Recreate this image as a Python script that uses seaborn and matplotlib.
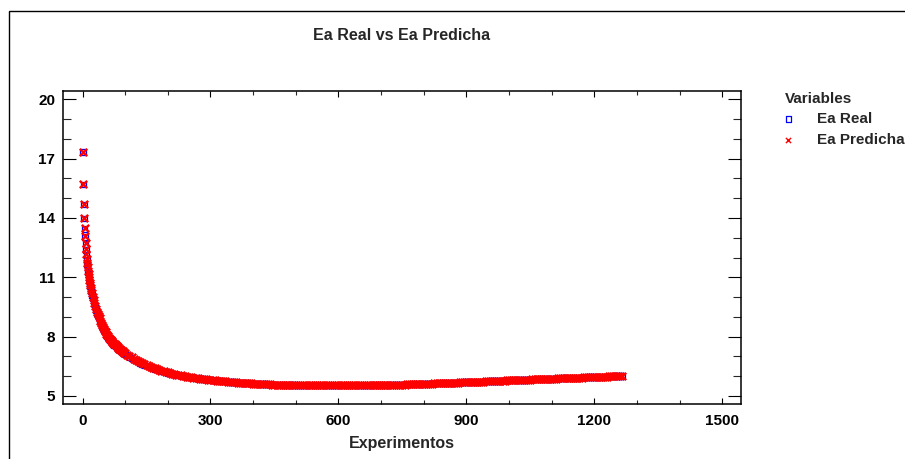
import numpy as np
import pandas as pd
import matplotlib
matplotlib.use("Agg")
import matplotlib.pyplot as plt
from matplotlib.patches import Rectangle
from matplotlib.ticker import MultipleLocator
import seaborn as sns

# Experiment numbers at which Ea is shown
experimentos = (list(range(1, 21)) + list(range(22, 101, 2))
                + list(range(105, 1261, 5)) + [1265])

# First part of the curve (x = 1..250), where real and predicted differ
ea_real_inicio = [
    17.35, 15.69, 14.69, 13.98, 13.44, 13.05, 12.68, 12.38, 12.12, 11.88,
    11.66, 11.46, 11.28, 11.11, 10.95, 10.81, 10.67, 10.54, 10.42, 10.31,
    10.12, 9.94, 9.78, 9.63, 9.48, 9.34, 9.20, 9.07, 8.96, 8.85,
    8.74, 8.63, 8.53, 8.43, 8.33, 8.25, 8.16, 8.08, 8.01, 7.95,
    7.89, 7.84, 7.78, 7.73, 7.68, 7.64, 7.59, 7.55, 7.50, 7.46,
    7.42, 7.38, 7.34, 7.31, 7.27, 7.24, 7.21, 7.17, 7.14, 7.11,
    7.04, 6.97, 6.91, 6.85, 6.79, 6.74, 6.68, 6.63, 6.58, 6.54,
    6.49, 6.45, 6.41, 6.37, 6.33, 6.30, 6.26, 6.23, 6.20, 6.17,
    6.14, 6.12, 6.09, 6.07, 6.05, 6.03, 6.01, 5.99, 5.97, 5.96,
]

ea_predicha_inicio = [
    17.36, 15.71, 14.72, 14.02, 13.49, 13.10, 12.73, 12.44, 12.18, 11.94,
    11.72, 11.52, 11.34, 11.17, 11.01, 10.87, 10.73, 10.60, 10.48, 10.37,
    10.19, 10.01, 9.85, 9.70, 9.55, 9.41, 9.27, 9.14, 9.03, 8.92,
    8.81, 8.70, 8.60, 8.50, 8.40, 8.31, 8.22, 8.14, 8.07, 8.01,
    7.95, 7.90, 7.84, 7.79, 7.74, 7.70, 7.65, 7.61, 7.56, 7.52,
    7.48, 7.44, 7.40, 7.36, 7.32, 7.29, 7.26, 7.22, 7.19, 7.16,
    7.09, 7.02, 6.95, 6.89, 6.83, 6.78, 6.72, 6.67, 6.62, 6.57,
    6.52, 6.48, 6.44, 6.40, 6.36, 6.32, 6.28, 6.25, 6.22, 6.19,
    6.16, 6.13, 6.10, 6.08, 6.06, 6.04, 6.02, 6.00, 5.98, 5.96,
]

# Remaining experiments (x = 255..1265), where both series coincide
ea_cola = [
    5.94, 5.93, 5.91, 5.90, 5.88, 5.87, 5.85, 5.84, 5.83, 5.82,
    5.80, 5.79, 5.78, 5.77, 5.76, 5.75, 5.74, 5.73, 5.72, 5.71,
    5.70, 5.69, 5.68, 5.68, 5.67, 5.66, 5.65, 5.65, 5.64, 5.63,
    5.62, 5.62, 5.61, 5.61, 5.60, 5.60, 5.59, 5.59, 5.58, 5.58,
    5.57, 5.57, 5.57, 5.56, 5.56, 5.56, 5.55, 5.55, 5.55, 5.55,
    5.54, 5.54, 5.54, 5.54, 5.54, 5.54, 5.53, 5.53, 5.53, 5.53,
    5.53, 5.53, 5.53, 5.53, 5.53, 5.53, 5.53, 5.53, 5.53, 5.53,
    5.53, 5.53, 5.53, 5.53, 5.53, 5.53, 5.53, 5.53, 5.54, 5.54,
    5.54, 5.54, 5.54, 5.54, 5.54, 5.55, 5.55, 5.55, 5.55, 5.55,
    5.56, 5.56, 5.56, 5.56, 5.57, 5.57, 5.57, 5.57, 5.58, 5.58,
    5.58, 5.59, 5.59, 5.59, 5.60, 5.60, 5.60, 5.61, 5.61, 5.61,
    5.62, 5.62, 5.63, 5.63, 5.64, 5.64, 5.64, 5.65, 5.65, 5.65,
    5.66, 5.66, 5.67, 5.67, 5.68, 5.68, 5.69, 5.69, 5.70, 5.70,
    5.71, 5.71, 5.72, 5.72, 5.72, 5.72, 5.73, 5.73, 5.74, 5.74,
    5.75, 5.75, 5.76, 5.76, 5.77, 5.77, 5.78, 5.78, 5.79, 5.79,
    5.80, 5.80, 5.80, 5.80, 5.81, 5.81, 5.82, 5.82, 5.83, 5.83,
    5.84, 5.84, 5.85, 5.85, 5.86, 5.86, 5.86, 5.86, 5.87, 5.87,
    5.88, 5.88, 5.89, 5.89, 5.90, 5.90, 5.91, 5.91, 5.92, 5.92,
    5.92, 5.92, 5.93, 5.93, 5.94, 5.94, 5.95, 5.95, 5.96, 5.96,
    5.96, 5.96, 5.97, 5.97, 5.98, 5.98, 5.99, 5.99, 6.00, 6.00,
    6.00, 6.00, 6.01,
]

ea_real = ea_real_inicio + ea_cola
ea_predicha = ea_predicha_inicio + ea_cola

x_ticks = [0, 300, 600, 900, 1200, 1500]
y_ticks = [5, 8, 11, 14, 17, 20]

sns.set_style("ticks")
plt.rcParams["font.family"] = ["Liberation Sans", "DejaVu Sans"]
plt.rcParams["font.weight"] = "bold"

fig = plt.figure(figsize=(9.05, 4.59), dpi=100)
ax = fig.add_axes([0.0700, 0.1192, 0.7488, 0.6825])

sns.scatterplot(x=experimentos, y=ea_real, marker="s", s=16, color="blue",
                linewidth=0.9, label="Ea Real", ax=ax)
ax.collections[-1].set_facecolor("none")
ax.collections[-1].set_edgecolor("blue")
sns.scatterplot(x=experimentos, y=ea_predicha, marker="x", s=28, color="red",
                linewidth=1.7, label="Ea Predicha", ax=ax)

ax.set_xlim(-45, 1544)
ax.set_ylim(4.58, 20.42)
ax.set_xticks(x_ticks)
ax.set_yticks(y_ticks)
ax.xaxis.set_minor_locator(MultipleLocator(100))
ax.yaxis.set_minor_locator(MultipleLocator(1))
ax.tick_params(axis="x", which="major", direction="in", length=4.3, width=0.8,
               top=True, bottom=True, labelsize=11, pad=7, colors="black")
ax.tick_params(axis="x", which="minor", direction="in", length=2.6, width=0.8,
               top=True, bottom=True)
ax.tick_params(axis="y", which="major", direction="in", length=9.4, width=0.8,
               left=True, right=True, labelsize=11, pad=6, colors="black")
ax.tick_params(axis="y", which="minor", direction="in", length=5.5, width=0.8,
               left=True, right=True)
for lab in ax.get_xticklabels() + ax.get_yticklabels():
    lab.set_fontweight("bold")
for sp in ax.spines.values():
    sp.set_visible(True)
    sp.set_linewidth(1.1)
    sp.set_color("black")

ax.set_xlabel("Experimentos", fontsize=11.5, fontweight="bold", labelpad=6)
ax.set_ylabel("")

leg = ax.legend(title="Variables", loc="upper left",
                bbox_to_anchor=(0.867, 0.800), bbox_transform=fig.transFigure,
                frameon=False, alignment="left", borderpad=0, borderaxespad=0,
                handlelength=0.5, handletextpad=1.6, labelspacing=0.42,
                prop={"weight": "bold", "size": 11},
                title_fontproperties={"weight": "bold", "size": 11})
# keep the legend symbols at their small size
for h, sz, lw in zip(leg.legend_handles, (16, 14), (0.9, 1.0)):
    h.set_sizes([sz])
    h.set_linewidth(lw)

fig.text(0.4441, 0.922, "Ea Real vs Ea Predicha", ha="center", va="center",
         fontsize=11.5, fontweight="bold")

# outer frame of the chart
fig.add_artist(Rectangle((8.5 / 905, -0.2), 1.2, 1.2 - 11 / 459,
                         transform=fig.transFigure, fill=False,
                         edgecolor="black", linewidth=1.0))

fig.savefig("out.png", dpi=100)
